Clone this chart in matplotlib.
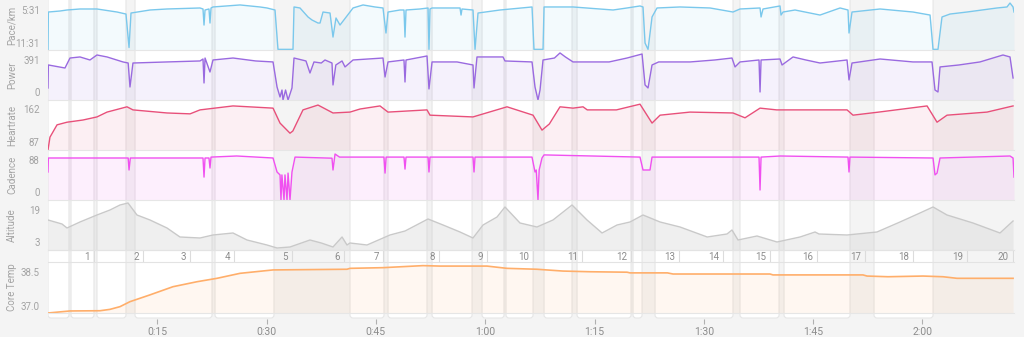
import matplotlib
matplotlib.use("Agg")
import matplotlib.pyplot as plt
from matplotlib.patches import FancyBboxPatch
from matplotlib.ticker import FuncFormatter

plt.rcParams['font.family'] = ['Roboto', 'DejaVu Sans']

T_END = 132.56  # minutes

# white interval columns (start, end) in minutes
columns = [(0.0, 2.88), (3.16, 6.31), (6.72, 10.70), (11.94, 22.51), (22.92, 31.01),
           (41.44, 46.11), (46.66, 52.01), (52.70, 58.19), (59.56, 62.58), (62.85, 66.56),
           (68.07, 71.91), (72.60, 80.01), (80.28, 81.52), (83.30, 94.00), (94.96, 100.32),
           (101.00, 110.06), (113.35, 121.45)]

lap_ends = [6.3, 13.0, 19.5, 25.5, 33.5, 40.6, 46.0, 53.7, 60.2, 66.6,
            73.3, 80.0, 86.6, 92.6, 99.1, 105.5, 112.1, 118.7, 126.1, 132.4]

# pace in seconds per km
pace_t = [0, 0.05, 1.65, 2.61, 4.39, 6.72, 9.47, 10.70, 11.12, 11.39, 14.00, 16.33, 20.86, 21.27,
          21.41, 21.55, 22.09, 22.23, 22.37, 22.64, 26.35, 29.09, 30.05, 31.15, 31.56, 33.62, 33.76,
          34.58, 35.68, 36.23, 37.05, 37.33, 37.74, 38.70, 39.11, 39.52, 40.07, 41.44, 41.86, 43.23,
          44.87, 45.97, 46.38, 46.66, 48.30, 48.85, 48.99, 49.13, 51.05, 52.15, 52.28, 52.42, 52.70,
          56.54, 56.68, 56.81, 58.32, 58.60, 59.01, 62.03, 66.42, 66.69, 67.93, 68.07, 72.05, 77.54,
          79.46, 81.24, 81.65, 81.93, 82.34, 82.89, 83.57, 86.73, 90.85, 94.00, 94.96, 97.71, 97.85,
          98.12, 100.45, 100.59, 100.87, 102.51, 105.94, 108.69, 109.78, 109.92, 110.33, 114.18,
          118.70, 121.04, 121.45, 122.13, 122.68, 123.78, 126.11, 130.23, 131.60, 132.01, 132.43, 132.56]
pace_v = [760, 353, 342, 331, 320, 320, 353, 375, 740, 364, 331, 320, 309, 320,
          495, 331, 320, 473, 309, 298, 276, 298, 309, 331, 760, 760, 298,
          309, 407, 440, 473, 473, 353, 364, 626, 418, 495, 353, 309, 276,
          298, 309, 582, 353, 331, 331, 626, 331, 320, 309, 760, 320, 309,
          309, 386, 320, 331, 760, 364, 331, 298, 760, 760, 298, 298, 331,
          309, 287, 298, 691, 760, 407, 309, 298, 309, 353, 320, 309, 407,
          320, 287, 386, 353, 331, 386, 309, 331, 582, 353, 320,
          353, 386, 760, 760, 407, 375, 353, 309, 298, 255, 298, 353]

power_t = [0, 0.05, 2.33, 3.02, 4.39, 5.76, 6.72, 8.10, 10.29, 11.0, 11.25, 11.66, 16.33, 20.86,
           21.27, 21.41, 21.55, 22.23, 22.64, 25.39, 28.5, 30.88, 31.43, 31.84, 32.11, 32.25, 32.6,
           32.94, 33.48, 33.76, 35.4, 35.95, 36.5, 37.5, 38.01, 38.97, 39.11, 39.5, 40.35, 40.76,
           41.86, 45.97, 46.25, 46.66, 48.85, 48.99, 49.13, 52.01, 52.28, 52.70, 56.13, 58.32, 58.46,
           58.87, 62.44, 62.71, 66.42, 66.83, 67.24, 67.52, 67.93, 69.5, 70.26, 71.0, 72.05, 77.0,
           79.46, 81.52, 81.93, 82.34, 82.89, 83.8, 88.10, 91.5, 93.86, 94.28, 94.96, 97.57, 97.71,
           97.85, 100.45, 100.73, 102.24, 104.0, 105.94, 109.65, 109.92, 110.33, 114.18, 118.70,
           121.31, 121.72, 122.13, 122.41, 125.0, 127.89, 131.05, 132.01, 132.43]
power_v = [49, 330, 293, 415, 428, 391, 452, 428, 367, 354, 61, 354, 367, 379,
           403, 110, 415, 244, 391, 415, 379, 367, 61, -61, 24, -98, 24,
           -98, 49, 415, 379, 232, 367, 354, 391, 354, 86, 330, 379, 306,
           391, 415, 183, 367, 391, 122, 391, 440, 37, 367, 367, 330, 49,
           428, 428, 379, 367, 61, -98, 24, 391, 415, 477, 428, 367, 367,
           415, 464, 86, 49, 330, 367, 367, 391, 415, 306, 367, 391, 0,
           391, 403, 330, 428, 391, 354, 391, 147, 354, 403, 367,
           367, 24, 0, 306, 330, 367, 452, 428, 171]

hr_t = [0, 0.27, 1.24, 2.61, 4.80, 6.72, 8.10, 10.84, 11.66, 16.33, 19.5, 20.86, 25.39, 30.88,
        31.84, 33.21, 33.6, 34.99, 37.05, 39.11, 41.44, 42.82, 45.56, 46.66, 52.01, 52.42, 58.32,
        62.99, 66.56, 67.79, 68.8, 70.26, 72.05, 73.42, 74.0, 78.0, 81.24, 82.89, 83.99, 88.10,
        94.00, 95.65, 97.71, 100.0, 109.65, 110.47, 114.0, 120.63, 122.00, 123.37, 128.86, 132.43]
hr_v = [69, 98, 126, 132, 137, 144, 155, 167, 160, 153, 151, 160, 169, 164,
        130, 107, 112, 160, 171, 153, 155, 162, 169, 155, 160, 148, 144,
        167, 148, 114, 128, 167, 164, 167, 160, 160, 173, 130, 148, 155,
        153, 142, 164, 160, 160, 148, 155, 169, 132, 148, 155, 169]

cad_t = [0, 0.05, 11.0, 11.12, 11.3, 21.27, 21.41, 21.55, 22.09, 22.23, 22.37, 25.9, 30.88, 31.43,
         31.84, 31.97, 32.1, 32.39, 32.52, 32.80, 32.94, 33.21, 33.48, 33.90, 38.97, 39.11, 39.39,
         40.0, 46.1, 46.25, 46.4, 48.85, 48.99, 49.13, 52.15, 52.28, 52.42, 58.32, 58.46, 58.6,
         66.42, 66.83, 67.0, 67.24, 67.4, 67.79, 68.07, 81.24, 81.65, 82.61, 82.89, 97.57, 97.71,
         97.85, 100.5, 109.78, 109.92, 110.05, 121.45, 121.72, 122.0, 122.41, 132.01, 132.43, 132.56]
cad_v = [55, 93.5, 93.5, 60.5, 93.5, 93.5, 41, 93.5, 93.5, 66, 96, 99, 93.5, 55,
         47, -22, 47, -22, 47, -22, 52, -22, 55, 96, 93, 60.5, 104.5,
         96, 96, 52, 96, 96, 63, 96, 96, 55, 96, 96, 55, 96,
         96, 55, 60.5, -22, 60.5, 93.5, 102, 96, 60.5, 60.5, 96, 96, 5.5,
         96, 99, 96, 55, 96, 93.5, 47, 52, 93.5, 99, 93.5, 41]

alt_t = [0, 1.92, 2.61, 4.39, 6.72, 8.51, 9.88, 10.98, 12.21, 14.00, 16.33, 18.11, 20.86, 22.64,
         25.39, 27.31, 30.05, 31.43, 33.21, 35.95, 37.5, 39.11, 40.35, 41.03, 41.44, 43.78, 46.93,
         49.0, 52.15, 54.21, 56.54, 58.32, 59.70, 61.62, 62.71, 64.77, 67.10, 69.30, 71.91, 73.97,
         76.03, 78.09, 79.87, 81.65, 83.99, 86.73, 90.46, 93.18, 93.86, 94.69, 97.30, 100.04,
         103.20, 105.26, 105.8, 109.65, 113.76, 116.92, 119.66, 121.45, 123.37, 126.93, 130.64, 132.43]
alt_v = [14, 12, 10, 13, 16.5, 19, 21.5, 22.5, 16.5, 14, 10, 5.5, 5, 6.5,
         7.5, 4, 1.5, 0, 0.5, 4, 2.5, 0.5, 5.5, 1.5, 2.5, 1.5, 6.5,
         8.5, 14.5, 11.5, 8, 5, 11.5, 15.5, 20.5, 12.5, 10.5, 14, 21.5, 14,
         7.5, 11.5, 13, 16.5, 13, 10.5, 5.5, 7, 9, 4, 6, 3,
         5.5, 8, 7, 6.5, 8, 13, 17.5, 20.5, 16.5, 12.5, 7.5, 13.5]

core_t = [0, 3.02, 7.14, 8.5, 9.88, 11.25, 14.00, 17.15, 20.45, 23.19, 26.35, 30.88, 41.03, 41.44,
          45.97, 51.46, 53.79, 60.24, 62.99, 67.10, 70.67, 74.38, 79.46, 79.87, 85.0, 85.77, 99.08,
          99.49, 111.84, 112.39, 115.27, 120.08, 122.82, 124.74, 132.43]
core_v = [36.69, 36.78, 36.79, 36.85, 36.97, 37.19, 37.49, 37.85, 38.07, 38.22, 38.44, 38.59, 38.62, 38.66,
          38.69, 38.78, 38.76, 38.76, 38.66, 38.62, 38.54, 38.51, 38.49, 38.46, 38.46, 38.41, 38.41,
          38.37, 38.37, 38.32, 38.29, 38.32, 38.29, 38.22, 38.22]

W, H = 1024, 337
X0, X1 = 48, 1014
TXT = '#a3a3a3'

fig = plt.figure(figsize=(W / 100, H / 100), dpi=100, facecolor='#f4f4f4')


def px_axes(top, bottom):
    ax = fig.add_axes([X0 / W, 1 - bottom / H, (X1 - X0) / W, (bottom - top) / H])
    ax.set_facecolor('none')
    ax.set_xlim(0, T_END)
    return ax


# background columns
bg = px_axes(0, H)
bg.set_ylim(H, 0)
bg.axis('off')
for a, b in columns:
    bg.add_patch(FancyBboxPatch((a, -6), b - a, 324, boxstyle='round,pad=0,rounding_size=0.42',
                                mutation_aspect=7.3, fc='white', ec='#e6e6e6', lw=0.8))

panels = [
    ('Pace/km', 0, 50, pace_t, pace_v, '#7ac8ec', (767, 222), [331, 691], ['5:31', '11:31']),
    ('Power', 50, 100, power_t, power_v, '#9a6ae0', (-98, 513), [0, 391], ['0', '391']),
    ('Heartrate', 100, 150, hr_t, hr_v, '#e8507a', (68.8, 182.5), [87, 162], ['87', '162']),
    ('Cadence', 150, 200, cad_t, cad_v, '#f050f0', (-22, 115.5), [0, 88], ['0', '88']),
    ('Altitude', 200, 250, alt_t, alt_v, '#c9c9c9', (-1, 24), [3, 19], ['3', '19']),
    ('Core Temp', 262, 313, core_t, core_v, '#ffae6a', (36.69, 38.94), [37.0, 38.5], ['37.0', '38.5']),
]

for name, top, bottom, t, v, c, lim, ticks, labels in panels:
    ax = px_axes(top, bottom)
    ax.set_ylim(*lim)
    fa = 0.28 if name == 'Altitude' else 0.09
    ax.fill_between(t, v, lim[0], color=c, alpha=fa, lw=0)
    ax.plot(t, v, color=c, lw=1.0 if name != 'Core Temp' else 1.2)
    ax.set_xticks([])
    ax.set_yticks(ticks, labels)
    ax.tick_params(axis='y', length=0, labelsize=7, labelcolor=TXT, pad=6)
    for s in ['top', 'left', 'right']:
        ax.spines[s].set_visible(False)
    ax.spines['bottom'].set_color('#e6e6e6')
    ax.spines['bottom'].set_linewidth(0.8)
    ax.set_ylabel(name, fontsize=7, color=TXT)
    ax.yaxis.set_label_coords(-31 / (X1 - X0), 0.5)

# lap strip
lap = px_axes(250, 262)
lap.set_ylim(0, 1)
lap.set_xticks([])
lap.set_yticks([])
for s in ['left', 'right']:
    lap.spines[s].set_visible(False)
for s in ['top', 'bottom']:
    lap.spines[s].set_color('#e3e3e3')
    lap.spines[s].set_linewidth(0.8)
for i, e in enumerate(lap_ends, start=1):
    lap.axvline(e, color='#dcdcdc', lw=0.8)
    lap.text(e - 0.55, 0.45, str(i), ha='right', va='center', fontsize=7, color='#8c8c8c')

# time axis
tax = px_axes(318, 319)
tax.set_yticks([])
for s in tax.spines.values():
    s.set_visible(False)
tax.set_xticks(range(15, 121, 15))
tax.xaxis.set_major_formatter(FuncFormatter(lambda m, p: f"{int(m // 60)}:{int(m % 60):02d}"))
tax.tick_params(axis='x', length=3.5, width=0.8, color='#b0b0b0', labelsize=7.5, labelcolor='#8c8c8c', pad=2)

fig.savefig('out.png', dpi=100, facecolor=fig.get_facecolor())
